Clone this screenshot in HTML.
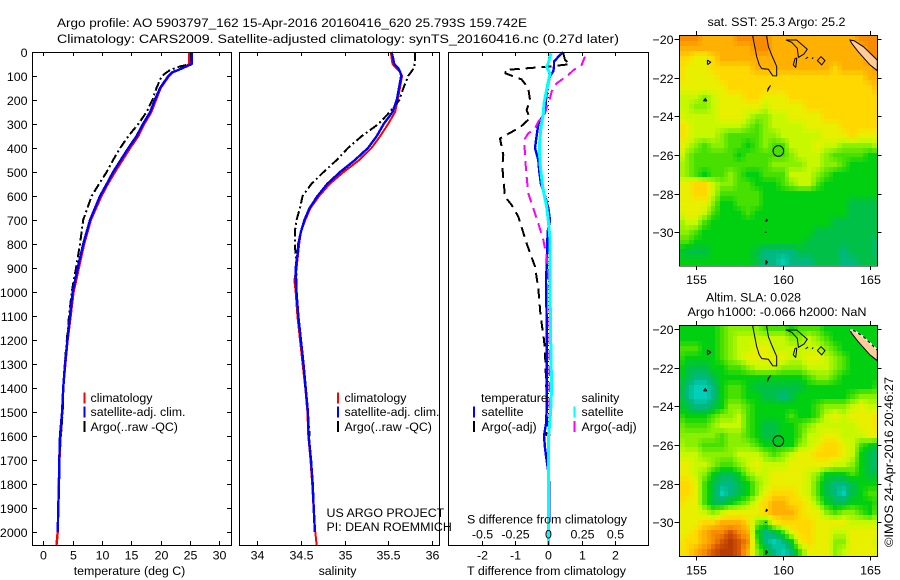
<!DOCTYPE html>
<html lang="en">
<head>
<meta charset="utf-8">
<title>Argo profile 5903797_162</title>
<style>
html,body{margin:0;padding:0;background:#fff;}
svg{display:block;font-family:"Liberation Sans",sans-serif;font-size:12.4px;fill:#000;}
</style>
</head>
<body>
<svg id="chart" xmlns="http://www.w3.org/2000/svg" width="900" height="580" viewBox="0 0 900 580"></svg>
<script>
// ---------- profile data ----------
const tempTicks = [0,5,10,15,20,25,30];
const depthTicks = [0,100,200,300,400,500,600,700,800,900,1000,1100,1200,1300,1400,1500,1600,1700,1800,1900,2000];
const salTicks = [34,34.5,35,35.5,36];
const salTickLabels = ['34','34.5','35','35.5','36'];
const diffTicks = [-2,-1,0,1,2];
const diffTickLabels = ['-2','-1','0','1','2'];
const sDiffTickLabels = ['-0.5','-0.25','0','0.25','0.5'];

const climTempDepth = [0,50,60,75,85,100,150,200,250,300,350,400,450,500,550,600,700,800,900,1000,1100,1200,1300,1400,1500,1600,1700,1800,1900,2000,2054];
const climTemp = [24.9,24.9,24.3,23.0,22.0,21.4,20.0,19.2,18.4,17.2,16.2,14.8,13.5,12.2,11.0,9.9,8.1,6.95,6.05,5.15,4.65,4.15,3.75,3.4,3.2,2.95,2.75,2.65,2.55,2.45,2.25];
const satTempDepth = [0,50,60,75,85,100,150,200,250,300,350,400,450,500,550,600,700,800,900,1000,1100,1200,1300,1400,1500,1600,1700,1800,1900,2000];
const satTemp = [25.3,25.3,24.4,23.0,21.9,21.3,19.9,19.0,18.2,17.0,15.9,14.5,13.2,11.9,10.8,9.66,7.96,6.8,5.86,5.0,4.55,4.1,3.7,3.4,3.2,2.85,2.73,2.68,2.56,2.45];
const argoTempDepth = [0,50,60,75,100,150,200,250,300,350,400,450,500,550,600,700,800,900,1000,1100,1200,1300,1400,1500,1600];
const argoTemp = [25.2,25.2,23.3,21.6,20.2,19.3,18.6,17.6,16.2,14.5,13.1,11.9,10.8,9.5,8.25,6.8,6.25,5.57,4.84,4.38,4.0,3.65,3.45,3.3,3.0];

const climSalDepth = [0,50,70,85,100,200,250,300,350,400,450,500,550,600,650,700,750,800,900,950,1000,1100,1200,1300,1400,1500,1600,1700,1800,1900,2000,2054];
const climSal = [35.53,35.55,35.60,35.64,35.66,35.61,35.58,35.50,35.41,35.31,35.17,34.99,34.83,34.71,34.61,34.55,34.50,34.48,34.45,34.425,34.44,34.46,34.49,34.52,34.55,34.575,34.585,34.61,34.63,34.645,34.665,34.68];
const satSalDepth = [0,30,50,70,85,100,200,250,300,350,400,450,500,550,600,650,700,750,800,850,900,950,1000,1100,1200,1300,1400,1500,1600,1700,1800,1900,2000];
const satSal = [35.54,35.56,35.57,35.62,35.64,35.65,35.6,35.55,35.45,35.37,35.27,35.12,34.95,34.80,34.69,34.6,34.54,34.5,34.47,34.46,34.44,34.44,34.45,34.47,34.50,34.53,34.555,34.58,34.59,34.616,34.635,34.647,34.66];
const argoSalDepth = [0,50,70,100,150,200,250,300,350,400,450,500,550,600,650,700,750,800,850,900,1000,1100,1200,1300,1400,1500,1600];
const argoSal = [35.81,35.805,35.79,35.73,35.675,35.63,35.52,35.39,35.2,35.04,34.91,34.76,34.62,34.52,34.49,34.45,34.43,34.43,34.44,34.45,34.45,34.47,34.50,34.53,34.55,34.58,34.6];

const satTDiffDepth = [0,20,40,60,80,100,150,200,250,300,350,400,450,500,550,600,650,700,750,800,900,950,1100,1300,1400,1500,1550,1600,1650,1700,1750,1800,2000];
const satTDiff = [0.45,0.3,0.17,0.17,0.15,0.05,-0.03,-0.07,-0.1,-0.3,-0.35,-0.4,-0.3,-0.27,-0.22,-0.1,0,0.05,-0.02,-0.03,-0.05,-0.07,-0.05,-0.05,-0.04,-0.05,-0.07,-0.13,-0.1,-0.05,0,0.03,0.02];
const argoTDiffDepth = [5,33,51,61,75,89,114,151,200,242,276,314,360,429,478,603,637,686,797,894,985,1100,1200,1250,1400,1500,1550,1600];
const argoTDiff = [0.45,0.5,0.65,0,-1.3,-1.28,-0.8,-0.6,-0.55,-0.65,-0.55,-0.85,-1.45,-1.35,-1.38,-1.3,-1.1,-0.9,-0.65,-0.4,-0.3,-0.23,-0.13,-0.1,-0.06,-0.03,-0.04,-0.05];
const satSDiffDepth = [5,47,61,89,158,214,256,311,394,464,561,644,700,783,985,1200,1400,1500,1600,2000,2054];
const satSDiff = [0.02,0,-0.0125,0.0125,-0.0125,-0.0325,-0.0375,-0.055,-0.0675,-0.0625,-0.0425,-0.0125,0,0.0125,0.0125,0.018,0.025,0.0175,0.0025,0,0];
const argoSDiffDepth = [19,54,75,96,131,165,193,221,256,290,318,339,367,422,492,589,631,714,783,853,922,992,1300,1600];
const argoSDiff = [0.275,0.25,0.19,0.15,0.0625,0.025,0.0125,-0.0075,-0.025,-0.075,-0.1,-0.15,-0.1825,-0.175,-0.1675,-0.15,-0.125,-0.075,-0.0375,-0.0125,0,0.008,0.01,0.01];

// ---------- map data: colour levels on a half-degree grid, north to south ----------
const mapLons = [154,154.5,155,155.5,156,156.5,157,157.5,158,158.5,159,159.5,160,160.5,161,161.5,162,162.5,163,163.5,164,164.5,165,165.5];
const mapLats = [-20,-20.5,-21,-21.5,-22,-22.5,-23,-23.5,-24,-24.5,-25,-25.5,-26,-26.5,-27,-27.5,-28,-28.5,-29,-29.5,-30,-30.5,-31,-31.5];
const sstLevels = [
[10,10,10,9,9,9,9,10,10,10,10,9,9,9,9,9,9,9,9,9,9,10,10,10],
[9,9,9,9,9,9,9,9,9,10,10,9,9,9,9,9,9,9,9,9,9,9,10,10],
[8,8,7,7,8,9,9,9,9,9,9,9,9,9,9,9,9,9,9,9,9,9,10,10],
[8,7,7,7,8,8,8,8,8,9,9,9,9,9,9,9,9,9,8,9,9,9,9,10],
[8,7,7,7,7,8,8,8,8,8,8,8,8,8,8,8,8,8,8,8,8,8,9,9],
[7,7,7,7,7,7,8,8,8,8,8,8,8,8,8,8,8,8,8,8,8,8,8,9],
[6,6,6,5,6,7,7,7,8,8,7,7,7,8,8,8,8,8,8,8,8,8,8,8],
[6,6,5,5,6,7,7,7,7,7,6,7,7,7,7,8,8,8,8,8,8,8,8,8],
[7,6,6,6,6,7,7,7,6,5,5,6,6,7,7,7,7,8,8,8,8,8,8,8],
[8,7,6,6,6,6,6,6,5,4,5,6,6,6,6,7,7,7,7,8,8,8,8,8],
[8,7,6,6,6,5,4,4,4,4,5,5,6,6,6,6,6,7,7,7,8,7,7,7],
[8,6,5,4,5,5,4,4,3,4,5,4,4,6,6,6,7,6,6,5,5,5,5,6],
[7,5,4,4,4,4,4,3,4,4,4,4,4,5,6,6,6,5,4,4,4,4,3,3],
[6,5,4,4,4,4,4,4,4,4,4,5,5,5,5,6,6,5,5,4,3,3,3,3],
[6,5,4,3,4,4,5,4,3,3,4,4,4,6,6,6,5,4,3,3,3,3,3,3],
[7,7,8,8,6,5,5,4,4,3,3,3,4,5,6,6,4,3,3,3,3,3,3,3],
[7,7,8,8,6,4,4,4,4,4,3,3,3,3,3,3,3,3,3,3,3,3,3,3],
[7,7,7,7,5,3,3,4,4,4,3,3,3,3,3,3,3,3,3,3,2,2,2,2],
[6,7,7,6,4,3,3,3,4,3,3,3,3,3,3,3,3,3,3,3,2,2,2,2],
[5,6,6,4,3,3,3,3,3,3,3,3,3,3,3,3,3,3,2,2,2,2,2,2],
[5,5,4,3,3,3,3,3,3,3,3,3,3,3,3,3,2,2,2,2,2,2,2,2],
[4,4,3,3,3,3,3,3,3,3,3,3,3,3,3,2,2,2,2,2,2,2,2,1],
[3,2,2,2,3,3,3,3,3,2,1,1,1,1,2,2,2,2,2,1,2,2,2,1],
[3,3,3,3,3,3,3,3,3,2,1,1,0,1,1,1,2,2,2,1,1,2,2,2]
];
const slaLevels = [
[3,3,3,3,3,4,5,5,5,5,4,4,4,3,4,4,4,3,3,3,3,3,3,3],
[3,3,3,3,3,4,5,6,6,6,6,6,6,5,5,6,5,4,3,3,3,3,3,3],
[4,4,4,3,3,4,5,6,6,7,7,6,6,6,6,6,6,5,4,3,3,3,3,3],
[4,3,3,3,3,4,5,6,7,7,7,7,7,6,6,7,7,6,5,4,3,3,3,3],
[4,2,2,2,3,3,4,4,5,6,6,6,5,5,5,6,6,6,5,4,3,3,3,3],
[3,2,1,1,2,3,3,3,3,3,3,3,3,3,3,4,5,5,4,3,3,3,3,3],
[3,1,0,0,1,3,4,4,3,2,2,2,2,2,2,3,3,3,3,3,3,3,3,4],
[3,1,0,0,1,3,4,4,3,3,2,2,1,2,3,3,3,3,3,3,4,5,5,5],
[3,2,1,1,2,3,5,5,4,3,3,3,3,3,3,3,4,5,5,5,6,7,6,6],
[4,3,3,3,4,5,5,6,4,3,3,3,3,4,3,3,4,6,7,6,7,7,7,8],
[5,4,4,4,5,6,6,6,4,3,2,2,3,3,4,5,6,6,6,6,6,7,7,8],
[5,5,5,5,5,4,5,5,4,3,2,2,3,3,4,6,6,7,7,6,6,6,7,7],
[6,5,5,4,4,4,5,5,5,4,3,3,3,3,5,6,7,8,8,7,6,4,3,2],
[6,6,6,5,5,5,5,6,6,6,5,4,5,6,7,7,8,8,8,7,6,3,2,1],
[7,7,6,6,5,4,4,5,6,7,6,6,6,7,7,7,7,7,6,6,5,3,2,1],
[7,7,6,5,3,2,2,3,5,6,6,7,7,7,7,6,5,3,3,3,4,3,2,2],
[8,8,7,4,2,1,1,2,3,5,6,7,7,7,7,6,4,2,1,1,2,3,3,3],
[8,8,7,4,2,0,1,2,3,5,7,8,8,8,7,6,4,2,1,0,2,3,4,4],
[8,7,7,4,2,2,3,4,5,7,8,9,9,8,8,7,5,3,2,2,3,3,3,4],
[7,7,7,6,5,6,7,7,7,7,8,9,9,9,8,7,7,5,4,5,5,4,3,5],
[7,7,7,8,8,9,9,9,8,5,4,7,8,8,8,8,7,7,7,7,6,6,6,6],
[7,7,8,9,10,10,11,10,9,3,1,2,4,7,8,8,7,7,6,6,7,7,7,7],
[7,8,8,9,10,11,12,11,10,4,1,0,1,3,7,8,7,7,5,5,7,7,7,6],
[7,8,9,10,11,12,12,11,9,5,3,1,0,1,4,7,7,7,5,6,7,7,7,7]
];
const colourLevels = ['#00d0b8','#00b880','#00c048','#00d010','#48e000','#88f000','#c8f800','#e8f000','#ffd800','#ffb000','#f88c00','#d85800','#b83c00'];
const lonTicks = [155,160,165];
const latTicks = [-20,-22,-24,-26,-28,-30];
const profileLon = 159.742;
const profileLat = -25.793;
const landLons = [163.85,164.08,164.62,165.42,165.42,165,164.33,163.95];
const landLats = [-20.05,-20.09,-20.4,-21.09,-21.64,-21.34,-20.66,-20.22];
const reefLons = [
 [158.27,158.35,158.5,158.65,158.79,159.17,159.42,159.65,159.65,159.36,159.17,159.07],
 [160.18,160.79,161.4,161.21,160.89,160.83,160.51,160.18],
 [160.7,160.6,160.74,160.8,160.7],
 [162.19,162.42,162.23,161.98,162.19],
 [161.3,161.45],[161.68,161.74],
 [155.67,155.86,155.71,155.67,155.67],
 [159.3,159.22,159.12,159.16,159.3],
 [155.44,155.63,155.55,155.44],
 [159.02,159.12,159.06,159.02],
 [158.97,159.07],
 [159.03,159.12,159.03,159.03]
];
const reefLats = [
 [-19.84,-20.22,-20.91,-21.34,-21.53,-21.57,-21.9,-21.91,-21.43,-20.83,-20.4,-19.84],
 [-20.05,-20.05,-20.53,-20.78,-20.95,-20.48,-20.17,-20.05],
 [-21,-21.34,-21.47,-21,-21],
 [-20.91,-21.12,-21.34,-21.12,-20.91],
 [-21.03,-20.93],[-21.03,-20.95],
 [-21.09,-21.2,-21.31,-21.31,-21.09],
 [-22.4,-22.5,-22.7,-22.55,-22.4],
 [-23.2,-23.2,-23.08,-23.2],
 [-29.45,-29.38,-29.32,-29.45],
 [-30,-30],
 [-31.45,-31.55,-31.65,-31.45]
];

// ---------- helpers ----------
const svg = document.getElementById('chart');
const NS = 'http://www.w3.org/2000/svg';
function node(tag, attrs, name, interactable) {
  const el = document.createElementNS(NS, tag);
  for (const k in attrs) el.setAttribute(k, attrs[k]);
  
  
  svg.appendChild(el);
  return el;
}
function label(str, x, y, anchor, name, fit) {
  const attrs = {x: x, y: y, 'text-anchor': anchor || 'start'};
  if (fit) { attrs.textLength = fit; attrs.lengthAdjust = 'spacingAndGlyphs'; }
  const el = node('text', attrs, name, false);
  el.textContent = str;
  return el;
}
function line(x1, y1, x2, y2, name) {
  return node('line', {x1: x1, y1: y1, x2: x2, y2: y2, stroke: '#000', 'stroke-width': 1, 'shape-rendering': 'crispEdges'}, name, false);
}
function frame(x, y, w, h, name) {
  return node('rect', {x: x, y: y, width: w, height: h, fill: 'none', stroke: '#000', 'stroke-width': 1, 'shape-rendering': 'crispEdges'}, name, false);
}
const depthY = d => 52 + d * 0.24;
const tempX = t => 43.3 + t * 5.867;
const salX = s => 257.3 + (s - 34) * 87.2;
const tDiffX = t => 548.3 + t * 33.33;
const sDiffX = s => 548.3 + s * 133.3;
function curve(xs, depths, xFn, colour, width, dash, name) {
  const pts = xs.map((v, i) => xFn(v).toFixed(1) + ',' + depthY(depths[i]).toFixed(1)).join(' ');
  const attrs = {points: pts, fill: 'none', stroke: colour, 'stroke-width': width, 'stroke-linejoin': 'round', 'shape-rendering': 'crispEdges'};
  if (dash) attrs['stroke-dasharray'] = dash;
  return node('polyline', attrs, name, false);
}
function legendBar(x, y, colour, name) {
  return node('rect', {x: x, y: y, width: 2, height: 11, fill: colour}, name, false);
}

// ---------- titles ----------
label('Argo profile: AO 5903797_162 15-Apr-2016 20160416_620 25.793S 159.742E', 57, 27, 'start', 'title-line-1', 470);
label('Climatology: CARS2009. Satellite-adjusted climatology: synTS_20160416.nc (0.27d later)', 57, 43, 'start', 'title-line-2', 562);

// ---------- temperature panel ----------
curve(climTemp, climTempDepth, tempX, '#ff0000', 2.4, null, 'climatology-temperature-line');
curve(argoTemp, argoTempDepth, tempX, '#000', 2, '9 3 2 3', 'argo-temperature-line');
curve(satTemp, satTempDepth, tempX, '#0000ff', 2.4, null, 'satellite-temperature-line');
frame(32.5, 52.5, 199, 493, 'temperature-panel-frame');
depthTicks.forEach(d => {
  const y = Math.round(depthY(d)) + 0.5;
  line(32, y, 37, y, 'depth-tick-left');
  line(227, y, 232, y, 'depth-tick-right');
  label(String(d), 27.5, y + 4.5, 'end', 'depth-tick-label');
});
tempTicks.forEach(t => {
  const x = Math.round(tempX(t)) + 0.5;
  line(x, 52, x, 56, 'temperature-tick-top');
  line(x, 541, x, 545, 'temperature-tick-bottom');
  label(String(t), x, 559.5, 'middle', 'temperature-tick-label');
});
label('temperature (deg C)', 129.5, 575, 'middle', 'temperature-axis-title');
legendBar(83.5, 392.5, '#ff0000', 'legend-climatology-swatch');
legendBar(83.5, 406.5, '#0000ff', 'legend-satellite-swatch');
legendBar(83.5, 421, '#000', 'legend-argo-swatch');
label('climatology', 90.5, 402, 'start', 'legend-climatology-label');
label('satellite-adj. clim.', 90.5, 416, 'start', 'legend-satellite-label', 95);
label('Argo(..raw -QC)', 90.5, 431, 'start', 'legend-argo-label');

// ---------- salinity panel ----------
curve(climSal, climSalDepth, salX, '#ff0000', 2, null, 'climatology-salinity-line');
curve(argoSal, argoSalDepth, salX, '#000', 2, '9 3 2 3', 'argo-salinity-line');
curve(satSal, satSalDepth, salX, '#0000ff', 2.4, null, 'satellite-salinity-line');
frame(239.5, 52.5, 200, 493, 'salinity-panel-frame');
salTicks.forEach((s, i) => {
  const x = Math.round(salX(s)) + 0.5;
  line(x, 52, x, 56, 'salinity-tick-top');
  line(x, 541, x, 545, 'salinity-tick-bottom');
  label(salTickLabels[i], x, 559.5, 'middle', 'salinity-tick-label');
});
label('salinity', 337.5, 575, 'middle', 'salinity-axis-title');
legendBar(337, 392.5, '#ff0000', 'legend-climatology-swatch');
legendBar(337, 406.5, '#0000ff', 'legend-satellite-swatch');
legendBar(337, 421, '#000', 'legend-argo-swatch');
label('climatology', 344.5, 402, 'start', 'legend-climatology-label');
label('satellite-adj. clim.', 344.5, 416, 'start', 'legend-satellite-label', 95);
label('Argo(..raw -QC)', 344.5, 431, 'start', 'legend-argo-label');
label('US ARGO PROJECT', 326.5, 517, 'start', 'project-credit');
label('PI: DEAN ROEMMICH', 326.5, 531, 'start', 'investigator-credit');

// ---------- difference panel ----------
node('line', {x1: 548.5, y1: 53, x2: 548.5, y2: 545, stroke: '#000', 'stroke-width': 1, 'stroke-dasharray': '1 3'}, 'zero-reference-line', false);
curve(argoTDiff, argoTDiffDepth, tDiffX, '#000', 2, '10 6', 'argo-temperature-difference-line');
curve(satTDiff, satTDiffDepth, tDiffX, '#0000ff', 2.4, null, 'satellite-temperature-difference-line');
curve(argoSDiff, argoSDiffDepth, sDiffX, '#ff00ff', 2, '10 6', 'argo-salinity-difference-line');
curve(satSDiff, satSDiffDepth, sDiffX, '#00ffff', 3, null, 'satellite-salinity-difference-line');
frame(448.5, 52.5, 200, 493, 'difference-panel-frame');
diffTicks.forEach((t, i) => {
  const x = Math.round(tDiffX(t)) + 0.5;
  line(x, 52, x, 56, 'difference-tick-top');
  line(x, 541, x, 545, 'difference-tick-bottom');
  label(diffTickLabels[i], x, 559.5, 'middle', 'temperature-difference-tick-label');
  label(sDiffTickLabels[i], x, 538.5, 'middle', 'salinity-difference-tick-label');
});
label('S difference from climatology', 467, 523.5, 'start', 'salinity-difference-axis-title', 160);
label('T difference from climatology', 467, 575, 'start', 'temperature-difference-axis-title', 159);
label('temperature', 481, 402, 'start', 'legend-temperature-heading');
label('satellite', 481.5, 416, 'start', 'legend-temperature-satellite-label');
label('Argo(-adj)', 481.5, 431, 'start', 'legend-temperature-argo-label');
label('salinity', 581.5, 402, 'start', 'legend-salinity-heading');
label('satellite', 581.5, 416, 'start', 'legend-salinity-satellite-label');
label('Argo(-adj)', 581.5, 431, 'start', 'legend-salinity-argo-label');
legendBar(473, 406.5, '#0000ff', 'legend-temperature-satellite-swatch');
legendBar(473, 421, '#000', 'legend-temperature-argo-swatch');
legendBar(573.5, 406.5, '#00ffff', 'legend-salinity-satellite-swatch');
legendBar(573.5, 421, '#ff00ff', 'legend-salinity-argo-swatch');

// ---------- maps ----------
function hex(c) { return [1, 3, 5].map(i => parseInt(c.substr(i, 2), 16)); }
function levelColour(v) {
  const lo = Math.max(0, Math.min(colourLevels.length - 1, Math.floor(v)));
  const hi = Math.min(colourLevels.length - 1, lo + 1);
  const f = Math.max(0, Math.min(1, v - lo));
  const a = hex(colourLevels[lo]), b = hex(colourLevels[hi]);
  return 'rgb(' + a.map((c, i) => Math.round(c + (b[i] - c) * f)).join(',') + ')';
}
function gridValue(levels, i2, j2) {
  const i = Math.max(0, Math.min(levels.length - 1, i2));
  const j = Math.max(0, Math.min(levels[0].length - 1, j2));
  const i0 = Math.floor(i), j0 = Math.floor(j);
  const i1 = Math.min(levels.length - 1, i0 + 1), j1 = Math.min(levels[0].length - 1, j0 + 1);
  const fi = i - i0, fj = j - j0;
  return (levels[i0][j0] * (1 - fj) + levels[i0][j1] * fj) * (1 - fi) +
         (levels[i1][j0] * (1 - fj) + levels[i1][j1] * fj) * fi;
}
function drawMap(levels, top, bottom, cellBottom, lat20Y, prefix, whiteCoast) {
  const lonX = lon => 695.7 + (lon - 155) * 17.43;
  const latY = lat => lat20Y + (-20 - lat) * 19.33;
  const L = 679.5, R = 877.5;
  for (let r = 0; r <= 2 * (mapLats.length - 1) + 1; r++) {
    for (let c = 0; c <= 2 * (mapLons.length - 1); c++) {
      const lat = mapLats[0] - r * 0.25, lon = mapLons[0] + c * 0.25;
      const x0 = Math.max(L, Math.round(lonX(lon - 0.125)));
      const x1 = Math.min(R, Math.round(lonX(lon + 0.125)));
      const y0 = r === 0 ? top : Math.max(top, Math.round(latY(lat + 0.125)));
      const y1 = Math.min(cellBottom, Math.round(latY(lat - 0.125)));
      if (x1 <= x0 || y1 <= y0) continue;
      const v = gridValue(levels, r / 2, c / 2);
      const cell = node('rect', {x: x0, y: y0, width: x1 - x0, height: y1 - y0, fill: levelColour(v), 'shape-rendering': 'crispEdges'}, prefix + '-heatmap-cell', false);
    }
  }
  const land = landLons.map((v, i) => lonX(v).toFixed(1) + ',' + latY(landLats[i]).toFixed(1)).join(' ');
  node('polygon', {points: land, fill: '#ffcc99', stroke: '#000', 'stroke-width': 1}, prefix + '-land', false);
  if (whiteCoast) {
    const coast = landLons.slice(0, 4).map((v, i) => lonX(v).toFixed(1) + ',' + latY(landLats[i]).toFixed(1)).join(' ');
    node('polyline', {points: coast, fill: 'none', stroke: '#fff', 'stroke-width': 1.5, 'stroke-dasharray': '3 3', 'shape-rendering': 'crispEdges'}, prefix + '-coast-mask', false);
  }
  reefLons.forEach((lons, k) => {
    const pts = lons.map((v, i) => lonX(v).toFixed(1) + ',' + latY(reefLats[k][i]).toFixed(1)).join(' ');
    node('polyline', {points: pts, fill: 'none', stroke: '#000', 'stroke-width': 1, 'stroke-linejoin': 'round'}, prefix + '-reef-outline', false);
  });
  node('circle', {cx: lonX(profileLon), cy: latY(profileLat), r: 5.3, fill: 'none', stroke: '#000', 'stroke-width': 1}, prefix + '-profile-location', false);
  frame(L, top - 0.5, R - L, bottom - top + 0.5, prefix + '-frame');
  latTicks.forEach(t => {
    const y = Math.round(latY(t)) + 0.5;
    line(674.5, y, 679.5, y, prefix + '-latitude-tick-left');
    line(877.5, y, 881.5, y, prefix + '-latitude-tick-right');
    label('\u2212' + Math.abs(t), 673.5, y + 4.5, 'end', prefix + '-latitude-tick-label');
  });
  lonTicks.forEach(t => {
    const x = Math.round(lonX(t)) + 0.5;
    line(x, top - 5, x, top, prefix + '-longitude-tick-top');
    line(x, bottom, x, bottom + 4, prefix + '-longitude-tick-bottom');
    label(String(t), x, bottom + 18, 'middle', prefix + '-longitude-tick-label');
  });
}
drawMap(sstLevels, 36, 266, 265, 39, 'sst-map', false);
drawMap(slaLevels, 326, 556.5, 557, 329, 'sla-map', true);
label('sat. SST: 25.3 Argo: 25.2', 707.5, 26, 'start', 'sst-map-title', 138);
label('Altim. SLA: 0.028', 706, 301.5, 'start', 'sla-map-title', 95);
label('Argo h1000: -0.066 h2000: NaN', 687.5, 316, 'start', 'sla-map-subtitle', 179);
const stamp = label('\u00A9IMOS 24-Apr-2016 20:46:27', 0, 0, 'start', 'imos-timestamp', 170);
stamp.setAttribute('transform', 'translate(893,547) rotate(-90)');
</script>
</body>
</html>
